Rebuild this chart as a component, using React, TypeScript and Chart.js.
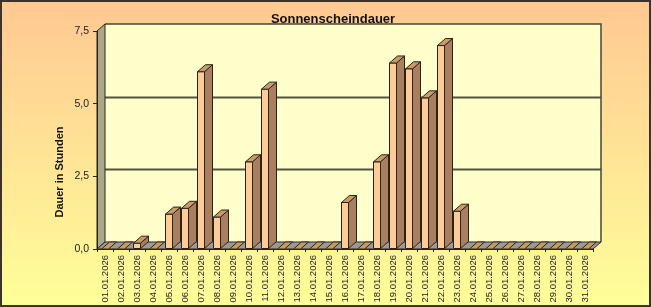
import React, { useEffect, useRef } from "react";
import { Chart, registerables } from "chart.js";

Chart.register(...registerables);

const TITLE = "Sonnenscheindauer";
const Y_TITLE = "Dauer in Stunden";
const categories = [
  "01.01.2026", "02.01.2026", "03.01.2026", "04.01.2026", "05.01.2026", "06.01.2026", "07.01.2026",
  "08.01.2026", "09.01.2026", "10.01.2026", "11.01.2026", "12.01.2026", "13.01.2026", "14.01.2026",
  "15.01.2026", "16.01.2026", "17.01.2026", "18.01.2026", "19.01.2026", "20.01.2026", "21.01.2026",
  "22.01.2026", "23.01.2026", "24.01.2026", "25.01.2026", "26.01.2026", "27.01.2026", "28.01.2026",
  "29.01.2026", "30.01.2026", "31.01.2026",
];
const sunshineHours = [
  0, 0, 0.2, 0, 1.2, 1.4, 6.1, 1.1, 0, 3.0, 5.5, 0, 0, 0, 0, 1.6, 0, 3.0, 6.4, 6.2, 5.2, 7.0, 1.3,
  0, 0, 0, 0, 0, 0, 0, 0,
];
const yMin = 0;
const yMax = 7.5;
const yStep = 2.5;

const DX = 8;
const DY = -7;
const LINE = "#2a2418";

const threeD = {
  id: "threeD",
  beforeDraw(chart: any) {
    const { ctx, width, height } = chart;
    ctx.save();
    const g = ctx.createLinearGradient(0, 0, 0, height);
    g.addColorStop(0, "#FFC892");
    g.addColorStop(1, "#FFFF99");
    ctx.fillStyle = g;
    ctx.fillRect(0, 0, width, height);
    ctx.strokeStyle = "#3c3428";
    ctx.lineWidth = 2;
    ctx.strokeRect(1, 1, width - 2, height - 2);

    const { left: L, right: R, top: T, bottom: B } = chart.chartArea;
    const ys = chart.scales.y;
    ctx.fillStyle = "#FFFFCC";
    ctx.fillRect(L + DX, T + DY, R - L, B - T);
    ctx.strokeStyle = "#55533f";
    ctx.lineWidth = 2;
    for (let v = yStep; v < yMax; v += yStep) {
      const y = Math.round(ys.getPixelForValue(v) + DY) + 0.5;
      ctx.beginPath();
      ctx.moveTo(L + DX, y);
      ctx.lineTo(R + DX, y);
      ctx.stroke();
    }
    ctx.strokeStyle = "#4a4636";
    ctx.lineWidth = 1.5;
    ctx.beginPath();
    ctx.moveTo(L + DX, T + DY);
    ctx.lineTo(R + DX, T + DY);
    ctx.lineTo(R + DX, B + DY);
    ctx.stroke();
    ctx.fillStyle = "#A9A98A";
    ctx.beginPath();
    ctx.moveTo(L, T);
    ctx.lineTo(L + DX, T + DY);
    ctx.lineTo(L + DX, B + DY);
    ctx.lineTo(L, B);
    ctx.closePath();
    ctx.fill();
    ctx.strokeStyle = LINE;
    ctx.lineWidth = 1;
    ctx.stroke();
    ctx.fillStyle = "#9A9A9A";
    ctx.beginPath();
    ctx.moveTo(L, B);
    ctx.lineTo(R, B);
    ctx.lineTo(R + DX, B + DY);
    ctx.lineTo(L + DX, B + DY);
    ctx.closePath();
    ctx.fill();
    ctx.stroke();

    ctx.fillStyle = "#111";
    ctx.font = "bold 13px 'Liberation Sans', Arial, sans-serif";
    ctx.textAlign = "center";
    ctx.textBaseline = "middle";
    ctx.fillText(TITLE, 333, 19);
    ctx.save();
    ctx.translate(60, 172);
    ctx.rotate(-Math.PI / 2);
    ctx.font = "bold 11px 'Liberation Sans', Arial, sans-serif";
    ctx.fillText(Y_TITLE, 0, 0);
    ctx.restore();
    ctx.restore();
  },
  afterDatasetsDraw(chart: any) {
    const { ctx } = chart;
    const meta = chart.getDatasetMeta(0);
    ctx.save();
    ctx.lineWidth = 1;
    ctx.strokeStyle = LINE;
    ctx.lineJoin = "round";
    meta.data.forEach((bar: any) => {
      const l = bar.x - bar.width / 2;
      const r = bar.x + bar.width / 2;
      const t = bar.y;
      const b = bar.base;
      if (b - t > 0.5) {
        ctx.fillStyle = "#A88060";
        ctx.beginPath();
        ctx.moveTo(r, t);
        ctx.lineTo(r + DX, t + DY);
        ctx.lineTo(r + DX, b + DY);
        ctx.lineTo(r, b);
        ctx.closePath();
        ctx.fill();
        ctx.stroke();
        ctx.strokeRect(l, t, r - l, b - t);
      }
      ctx.fillStyle = "#CC9A6A";
      ctx.beginPath();
      ctx.moveTo(l, t);
      ctx.lineTo(l + DX, t + DY);
      ctx.lineTo(r + DX, t + DY);
      ctx.lineTo(r, t);
      ctx.closePath();
      ctx.fill();
      ctx.stroke();
    });
    ctx.restore();
  },
};

export default function App() {
  const ref = useRef<HTMLCanvasElement>(null);
  useEffect(() => {
    if (!ref.current) return;
    const chart = new Chart(ref.current, {
      type: "bar",
      data: {
        labels: categories,
        datasets: [
          {
            data: sunshineHours,
            backgroundColor: "#FFCC99",
            borderWidth: 0,
            barThickness: 7,
          },
        ],
      },
      options: {
        animation: false,
        responsive: false,
        devicePixelRatio: 1,
        layout: { padding: { top: 31, right: 58, left: 0, bottom: 0 } },
        plugins: { legend: { display: false }, title: { display: false }, tooltip: { enabled: false } },
        scales: {
          x: {
            afterFit: (s: any) => {
              s.height = 58;
            },
            grid: { drawOnChartArea: false, drawTicks: true, tickLength: 3, color: LINE, offset: true },
            border: { display: true, color: LINE },
            ticks: {
              autoSkip: false,
              maxRotation: 90,
              minRotation: 90,
              padding: 3,
              color: "#222",
              font: { size: 9.5, family: "'Liberation Sans', Arial, sans-serif" },
            },
          },
          y: {
            min: yMin,
            max: yMax,
            afterFit: (s: any) => {
              s.width = 97;
            },
            grid: { drawOnChartArea: false, drawTicks: true, tickLength: 4, color: LINE },
            border: { display: true, color: LINE },
            ticks: {
              stepSize: yStep,
              padding: 4,
              color: "#222",
              font: { size: 10.5, family: "'Liberation Sans', Arial, sans-serif" },
              callback: (v: any) => Number(v).toFixed(1).replace(".", ","),
            },
          },
        },
      },
      plugins: [threeD],
    });
    return () => chart.destroy();
  }, []);
  return (
    <div style={{ position: "absolute", left: 0, top: 0, width: 651, height: 307 }}>
      <canvas ref={ref} width={651} height={307} style={{ display: "block" }} />
    </div>
  );
}
